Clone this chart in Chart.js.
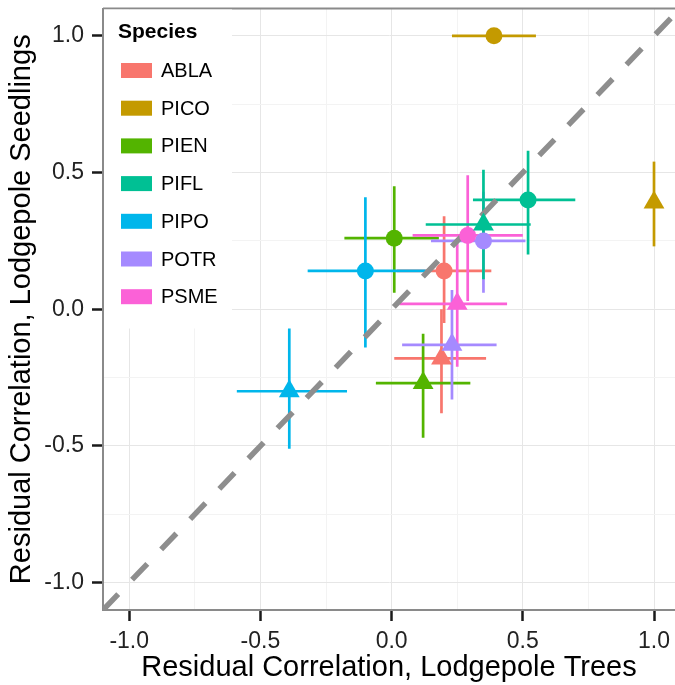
<!DOCTYPE html>
<html>
<head>
<meta charset="utf-8">
<script src="https://cdn.jsdelivr.net/npm/chart.js@4/dist/chart.umd.min.js"></script>
<style>
  html, body { margin: 0; padding: 0; background: #fff; overflow: hidden; }
</style>
</head>
<body>
<canvas id="chart" width="675" height="685"></canvas>
<script>
// species and colours
const species = ["ABLA", "PICO", "PIEN", "PIFL", "PIPO", "POTR", "PSME"];
const speciesColors = ["#F8766D", "#C49A00", "#53B400", "#00C094", "#00B6EB", "#A58AFF", "#FB61D7"];

// circles (same order as species)
const circX   = [0.20, 0.39, 0.01, 0.52, -0.10, 0.35, 0.29];
const circY   = [0.14, 1.00, 0.26, 0.40, 0.14, 0.25, 0.27];
const circXLo = [0.02, 0.23, -0.18, 0.31, -0.32, 0.15, 0.08];
const circXHi = [0.38, 0.55, 0.18, 0.70, 0.13, 0.51, 0.50];
const circYLo = [-0.05, 1.00, 0.06, 0.20, -0.14, 0.06, 0.03];
const circYHi = [0.34, 1.00, 0.45, 0.58, 0.41, 0.43, 0.49];

// triangles
const triX   = [0.19, 1.00, 0.12, 0.35, -0.39, 0.23, 0.25];
const triY   = [-0.18, 0.39, -0.27, 0.31, -0.30, -0.13, 0.02];
const triXLo = [0.01, 1.00, -0.06, 0.13, -0.59, 0.04, 0.03];
const triXHi = [0.36, 1.00, 0.30, 0.53, -0.17, 0.40, 0.44];
const triYLo = [-0.38, 0.23, -0.47, 0.11, -0.51, -0.33, -0.21];
const triYHi = [0.00, 0.54, -0.09, 0.51, -0.07, 0.07, 0.25];

// axes
const tickVals = [-1, -0.75, -0.5, -0.25, 0, 0.25, 0.5, 0.75, 1];
const xMin = -1.1, xMax = 1.08, yMin = -1.1, yMax = 1.1;

const font = "'Liberation Sans', Arial, sans-serif";
const isMajor = v => Math.abs(v * 2 - Math.round(v * 2)) < 1e-6;

function pts(xs, ys){ return xs.map((x,i)=>({x:x, y:ys[i]})); }

// error bars + legend box
const extras = {
  id: "extras",
  beforeDatasetsDraw(chart){
    const c = chart.ctx, a = chart.chartArea;
    const sx = chart.scales.x, sy = chart.scales.y;
    c.save();
    // top border
    c.strokeStyle = "#8a8a8a"; c.lineWidth = 2;
    c.beginPath(); c.moveTo(a.left, a.top); c.lineTo(a.right, a.top); c.stroke();

    // legend
    c.fillStyle = "#fff";
    c.fillRect(a.left + 1, a.top + 1, 128, 319);
    c.fillStyle = "#000";
    c.font = "bold 21px " + font;
    c.textBaseline = "middle"; c.textAlign = "left";
    c.fillText("Species", a.left + 15, a.top + 24);
    c.font = "20px " + font;
    species.forEach((s,i)=>{
      const y = a.top + 62 + i * 37.7;
      c.fillStyle = speciesColors[i];
      c.fillRect(a.left + 18, y - 7.5, 31, 15);
      c.fillStyle = "#000";
      c.fillText(s, a.left + 58, y + 1);
    });

    // error bars
    c.lineWidth = 2.7;
    function bars(xs, ys, xlo, xhi, ylo, yhi){
      xs.forEach((x,i)=>{
        c.strokeStyle = speciesColors[i];
        const px = sx.getPixelForValue(x), py = sy.getPixelForValue(ys[i]);
        c.beginPath();
        c.moveTo(sx.getPixelForValue(xlo[i]), py); c.lineTo(sx.getPixelForValue(xhi[i]), py);
        c.moveTo(px, sy.getPixelForValue(ylo[i])); c.lineTo(px, sy.getPixelForValue(yhi[i]));
        c.stroke();
      });
    }
    bars(circX, circY, circXLo, circXHi, circYLo, circYHi);
    bars(triX, triY, triXLo, triXHi, triYLo, triYHi);
    c.restore();
  }
};

function axis(min, max, size, isX){
  return {
    type: "linear", min: min, max: max,
    afterBuildTicks: s => { s.ticks = tickVals.map(v=>({value:v})); },
    afterFit: s => {
      if(isX) s.height = size; else s.width = size;
      s.paddingLeft = 0; s.paddingRight = 0; s.paddingTop = 0; s.paddingBottom = 0;
    },
    grid: {
      color: ctx => (ctx.tick && isMajor(ctx.tick.value)) ? "#e6e6e6" : "#f3f3f3",
      tickColor: ctx => (ctx.tick && isMajor(ctx.tick.value)) ? "#1a1a1a" : "rgba(0,0,0,0)",
      tickLength: 11, tickWidth: 2.5, lineWidth: 1
    },
    border: { display: true, color: "#8a8a8a", width: 2 },
    ticks: {
      autoSkip: false, maxRotation: 0, color: "#222", padding: isX ? 7 : 8,
      font: { family: font, size: 23 },
      callback: v => isMajor(v) ? v.toFixed(1) : ""
    },
    title: {
      display: true,
      text: isX ? "Residual Correlation, Lodgepole Trees" : "Residual Correlation, Lodgepole Seedlings",
      color: "#000",
      font: { family: font, size: 29 },
      padding: isX ? { top: 0, bottom: 0 } : { top: 5, bottom: 0 }
    }
  };
}

new Chart(document.getElementById("chart"), {
  type: "scatter",
  data: {
    datasets: [
      {
        type: "line", label: "diag", order: 3,
        data: [{x:yMin, y:yMin}, {x:yMax, y:yMax}],
        borderColor: "#8e8e8e", borderWidth: 5.5, borderDash: [22, 20],
        borderCapStyle: "butt", pointRadius: 0, fill: false
      },
      {
        label: "circles", order: 2,
        data: pts(circX, circY),
        pointStyle: "circle", pointRadius: 8.5,
        pointBackgroundColor: speciesColors, pointBorderColor: speciesColors, pointBorderWidth: 0
      },
      {
        label: "triangles", order: 1,
        data: pts(triX, triY),
        pointStyle: "triangle", pointRadius: 12,
        pointBackgroundColor: speciesColors, pointBorderColor: speciesColors, pointBorderWidth: 0
      }
    ]
  },
  options: {
    responsive: false, devicePixelRatio: 1, animation: false,
    layout: { autoPadding: false, padding: { top: 8.5, right: 0, left: 0, bottom: 0 } },
    plugins: { legend: { display: false }, tooltip: { enabled: false } },
    scales: { x: axis(xMin, xMax, 75, true), y: axis(yMin, yMax, 103, false) }
  },
  plugins: [extras]
});
</script>
</body>
</html>
